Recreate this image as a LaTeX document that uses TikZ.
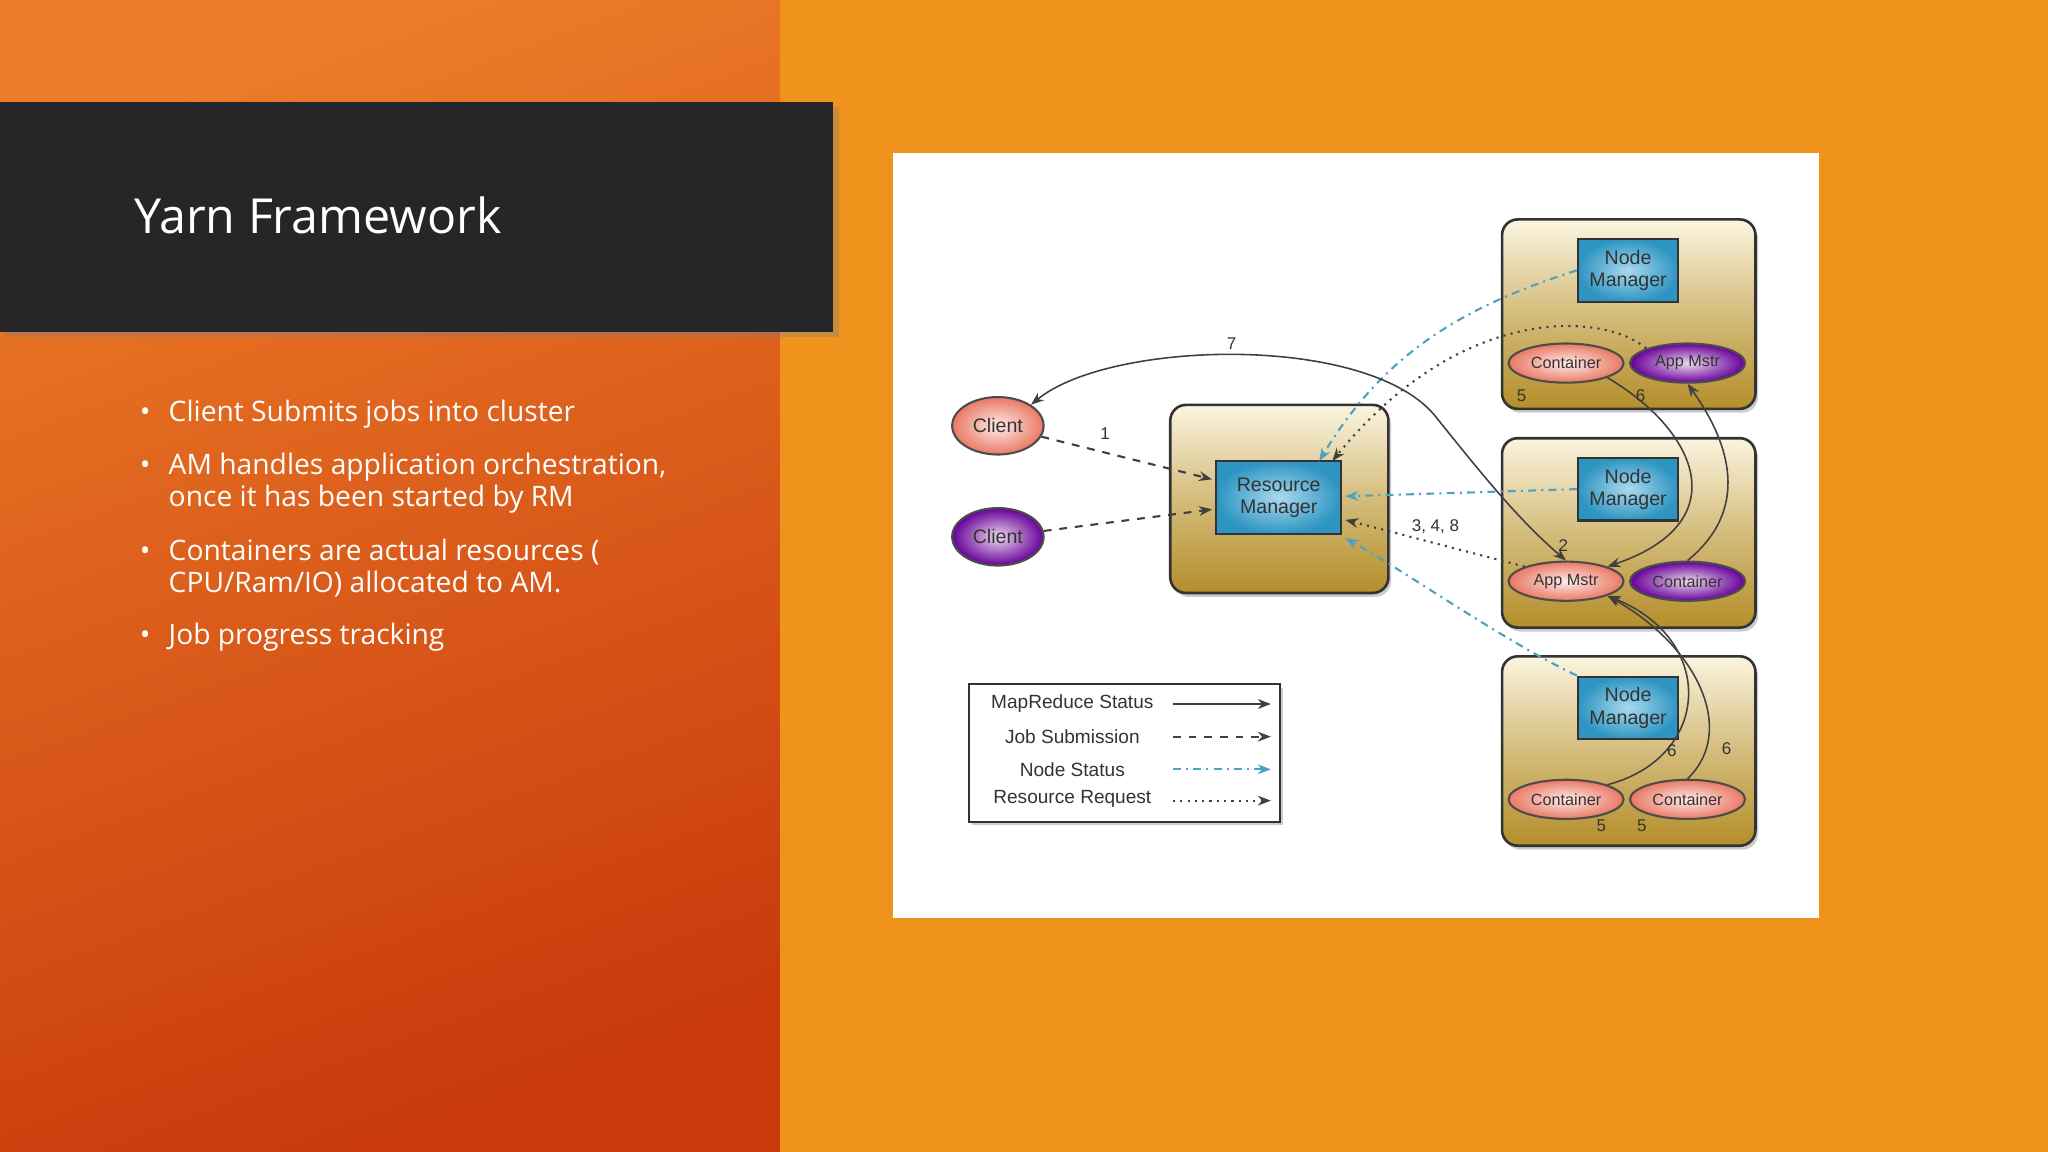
\documentclass[tikz,border=0pt]{standalone}
\usepackage{fontspec}
\setmainfont{Open Sans}
\newfontfamily\diag{Liberation Sans}
\usetikzlibrary{shadows,arrows.meta,shapes.geometric}
\definecolor{orR}{HTML}{EF931D}
\definecolor{orTop}{HTML}{EC7C28}
\definecolor{orBot}{HTML}{C83A0C}
\definecolor{banner}{HTML}{262527}
\definecolor{goldT}{HTML}{FBF4DF}
\definecolor{goldB}{HTML}{B48E2A}
\definecolor{blueA}{HTML}{A9D9EE}
\definecolor{blueB}{HTML}{2E95C2}
\definecolor{teal}{HTML}{4AA3C0}
\begin{document}
\begin{tikzpicture}[x=0.5pt,y=-0.5pt,
  goldbox/.style={draw=black!80,line width=1pt,rounded corners=6pt,top color=goldT,bottom color=goldB,middle color=goldB!55!goldT,drop shadow={shadow xshift=1pt,shadow yshift=-1.5pt,opacity=0.4}},
  bluebox/.style={draw=black!80,line width=0.8pt,inner color=blueA,outer color=blueB,align=center,font=\diag\fontsize{7.5}{8.5}\selectfont,text=black!80},
  redell/.style={ellipse,draw=black!70,line width=0.8pt,inner color=red!8,outer color=red!50!brown!70,font=\diag\fontsize{6.2}{7}\selectfont,text=black!80,inner sep=0pt},
  purell/.style={ellipse,draw=black!70,line width=0.8pt,inner color=violet!15,outer color=violet!80!blue,font=\diag\fontsize{6.2}{7}\selectfont,text=black!80,inner sep=0pt},
  nmstyle/.style={bluebox,minimum width=38.5pt,minimum height=24pt,inner sep=0pt},
  lbl/.style={font=\diag\fontsize{6.5}{7}\selectfont,text=black!80},
  mrs/.style={black!75,line width=0.6pt,-{Stealth[length=5pt]}},
  jobs/.style={black!75,line width=0.8pt,dashed,-{Stealth[length=5pt]}},
  nsts/.style={teal,line width=0.8pt,dash dot,-{Stealth[length=5pt]}},
  rreq/.style={black!75,line width=0.8pt,dotted,-{Stealth[length=5pt]}},
  bul/.style={anchor=west,text=white,font=\fontsize{10.8}{12.2}\selectfont,align=left}
]
\useasboundingbox (0,0) rectangle (1568,882);
% backgrounds
\fill[orR] (0,0) rectangle (1568,882);
\shade[top color=orTop,bottom color=orBot,shading angle=20] (0,0) rectangle (597,882);
\fill[banner,drop shadow={shadow xshift=2pt,shadow yshift=-2pt,opacity=0.35}] (0,78) rectangle (638,254);
\node[anchor=west,text=white,font=\fontsize{18.5}{22}\selectfont] (title) at (96,165) {Yarn Framework};
% bullets
\node[bul] (b1) at (100,317) {\textbullet\hspace{7pt}Client Submits jobs into cluster};
\node[bul] (b2) at (100,370) {\textbullet\hspace{7pt}\parbox[t]{200pt}{AM handles application orchestration,\\ once it has been started by RM}};
\node[bul] (b3) at (100,435) {\textbullet\hspace{7pt}\parbox[t]{200pt}{Containers are actual resources (\\ CPU/Ram/IO) allocated to AM.}};
\node[bul] (b4) at (100,488) {\textbullet\hspace{7pt}Job progress tracking};
% white panel
\fill[white] (684,117) rectangle (1393,703);
% boxes
\node[goldbox,minimum width=83.5pt,minimum height=72pt] (rmbox) at (979.5,382) {};
\node[bluebox,minimum width=48pt,minimum height=28pt,inner sep=0pt] (rm) at (979,381) {Resource\\Manager};
\foreach \i/\y in {1/240.5,2/408,3/575}{
  \node[goldbox,minimum width=97pt,minimum height=72.5pt] (nmbox\i) at (1247,\y) {};
}
\node[nmstyle] (nm1) at (1246.5,207) {Node\\Manager};
\node[nmstyle] (nm2) at (1246.5,374.5) {Node\\Manager};
\node[nmstyle] (nm3) at (1246.5,542) {Node\\Manager};
\tikzset{ew/.style={minimum width=44pt,minimum height=15pt}}
\node[redell,ew] (c1) at (1199,278) {Container};
\node[purell,ew] (am1) at (1292,278) {App Mstr};
\node[redell,ew] (am2) at (1199,445) {App Mstr};
\node[purell,ew] (c2) at (1292,445) {Container};
\node[redell,ew] (c3a) at (1199,612) {Container};
\node[redell,ew] (c3b) at (1292,612) {Container};
\node[redell,minimum width=35pt,minimum height=22pt,font=\diag\fontsize{7.5}{8}\selectfont] (cl1) at (764,326) {Client};
\node[purell,minimum width=35pt,minimum height=22pt,font=\diag\fontsize{7.5}{8}\selectfont] (cl2) at (764,411) {Client};
% connectors
\coordinate (rmt1) at (1010,353); \coordinate (rmt2) at (1020,353);
\coordinate (rmr1) at (1030,380); \coordinate (rmr2) at (1030,398); \coordinate (rmr3) at (1030,412);
\draw[jobs] (cl1) -- (928,367);
\draw[jobs] (cl2) -- (928,390);
\draw[nsts] (nm1.west) .. controls (1120,235) and (1060,270) .. (rmt1);
\draw[nsts] (nm2.west) -- (rmr1);
\draw[nsts] (nm3.north west) .. controls (1150,490) and (1080,440) .. (rmr3);
\draw[rreq] (am1.north west) .. controls (1230,240) and (1120,230) .. (rmt2);
\draw[rreq] (am2.north west) -- (rmr2);
\draw[mrs,{Stealth[length=5pt]}-{Stealth[length=5pt]}] (cl1.north east) .. controls (850,260) and (1050,255) .. (1100,320) .. controls (1140,370) and (1165,400) .. (am2.north);
\draw[mrs] (c1.south east) .. controls (1300,330) and (1330,400) .. (am2.north east);
\draw[mrs] (c2.north) .. controls (1340,390) and (1325,340) .. (am1.south);
\draw[mrs] (c3a.north east) .. controls (1310,580) and (1315,490) .. (am2.south east);
\draw[mrs] (c3b.north) .. controls (1330,560) and (1300,495) .. (am2.south east);
% labels
\node[lbl] (l7) at (943,263) {7};
\node[lbl] (l1) at (846,332) {1};
\node[lbl] (l348) at (1099,403) {3, 4, 8};
\node[lbl] (l2) at (1197,418) {2};
\node[lbl] (l5a) at (1165,303) {5};
\node[lbl] (l6a) at (1256,303) {6};
\node[lbl] (l6b) at (1280,575) {6};
\node[lbl] (l6c) at (1322,573) {6};
\node[lbl] (l5b) at (1226,632) {5};
\node[lbl] (l5c) at (1257,632) {5};
% legend
\node[draw=black!80,fill=white,line width=0.8pt,minimum width=119pt,minimum height=52.5pt,drop shadow={shadow xshift=1pt,shadow yshift=-1.5pt,opacity=0.4}] (leg) at (861,576.5) {};
\tikzset{legt/.style={font=\diag\fontsize{7.3}{8}\selectfont,text=black!80}}
\node[legt] (t1) at (821,539) {MapReduce Status};
\node[legt] (t2) at (821,564) {Job Submission};
\node[legt] (t3) at (821,589) {Node Status};
\node[legt] (t4) at (821,612) {Resource Request};
\coordinate (s1) at (898,539); \coordinate (e1) at (973,539);
\coordinate (s2) at (898,564); \coordinate (e2) at (973,564);
\coordinate (s3) at (898,589); \coordinate (e3) at (973,589);
\coordinate (s4) at (898,613); \coordinate (e4) at (973,613);
\draw[mrs] (s1) -- (e1);
\draw[jobs] (s2) -- (e2);
\draw[nsts] (s3) -- (e3);
\draw[rreq] (s4) -- (e4);
\end{tikzpicture}
\end{document}
